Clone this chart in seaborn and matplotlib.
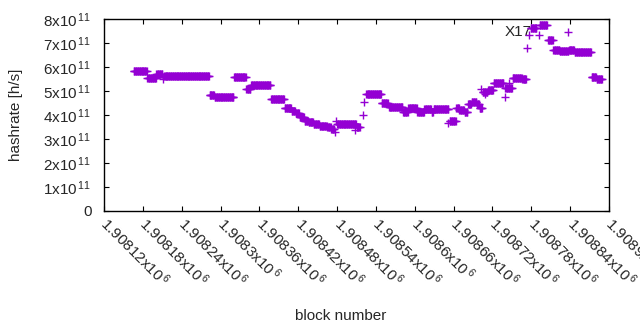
"""
Hashrate per block number, gnuplot-style scatter of '+' markers.
"""
import numpy as np
import pandas as pd
import matplotlib
matplotlib.use("Agg")
import matplotlib.pyplot as plt
import seaborn as sns

# ================================================================================
# Data
# ================================================================================
# Runs of blocks that share the same hashrate: first block, last block, rate [h/s]
seg_start = [1908166, 1908187, 1908201, 1908213, 1908283, 1908291, 1908311, 1908321,
             1908340, 1908347, 1908378, 1908399, 1908410, 1908416, 1908422, 1908430,
             1908436, 1908444, 1908453, 1908465, 1908471, 1908480, 1908510, 1908525,
             1908549, 1908560, 1908582, 1908590, 1908604, 1908615, 1908626, 1908629,
             1908654, 1908664, 1908669, 1908677, 1908682, 1908688, 1908696, 1908700,
             1908705, 1908713, 1908722, 1908740, 1908751, 1908766, 1908779, 1908793,
             1908806, 1908814, 1908824, 1908838, 1908847, 1908873, 1908881]
seg_end   = [1908186, 1908200, 1908210, 1908282, 1908290, 1908310, 1908320, 1908339,
             1908346, 1908377, 1908398, 1908409, 1908415, 1908421, 1908429, 1908435,
             1908443, 1908452, 1908464, 1908470, 1908475, 1908509, 1908515, 1908548,
             1908558, 1908581, 1908589, 1908603, 1908614, 1908625, 1908628, 1908652,
             1908663, 1908668, 1908676, 1908681, 1908687, 1908695, 1908699, 1908704,
             1908712, 1908721, 1908737, 1908750, 1908765, 1908772, 1908788, 1908804,
             1908813, 1908823, 1908837, 1908846, 1908872, 1908880, 1908889]
seg_rate  = [5.85, 5.56, 5.71, 5.61, 4.85, 4.74, 4.77, 5.57,
             5.10, 5.24, 4.65, 4.31, 4.17, 4.09, 3.90, 3.76,
             3.69, 3.62, 3.55, 3.48, 3.42, 3.62, 3.48, 4.87,
             4.49, 4.32, 4.14, 4.28, 4.14, 4.24, 4.12, 4.24,
             3.74, 4.30, 4.20, 4.12, 4.45, 4.53, 4.46, 4.28,
             4.97, 5.06, 5.32, 5.12, 5.56, 5.49, 7.62, 7.77,
             7.14, 6.69, 6.65, 6.69, 6.62, 5.58, 5.50]

# Single stray points
extra_block = [1908211, 1908477, 1908478, 1908508, 1908520, 1908522, 1908651,
               1908703, 1908708, 1908739, 1908746, 1908774, 1908777, 1908792, 1908836]
extra_rate  = [5.49, 3.30, 3.75, 3.37, 4.00, 4.55, 3.67,
               5.10, 4.86, 4.76, 5.32, 6.78, 7.33, 7.33, 7.45]

RATE_SCALE = 1e11
x_ticks = np.arange(1908120, 1908901, 60)
y_ticks = np.arange(0, 9) * RATE_SCALE

# Build the per-block table
blocks, rates = [], []
for a, b, r in zip(seg_start, seg_end, seg_rate):
    for blk in range(a, b + 1):
        blocks.append(blk)
        rates.append(r * RATE_SCALE)
blocks += extra_block
rates  += [r * RATE_SCALE for r in extra_rate]
df = pd.DataFrame({"block": blocks, "hashrate": rates})

# ================================================================================
# Styling
# ================================================================================
sns.set_style("ticks")
plt.rcParams["font.family"] = ["Liberation Sans", "DejaVu Sans"]
plt.rcParams["mathtext.default"] = "regular"
FONT = 11
COLOR = "#9400D3"

# ================================================================================
# Plot
# ================================================================================
fig = plt.figure(figsize=(6.4, 3.3), dpi=100)
ax = fig.add_axes([104 / 640, 1 - 211 / 330, (609 - 104) / 640, (211 - 19) / 330])

sns.scatterplot(data=df, x="block", y="hashrate", ax=ax, marker="+", s=40,
                color=COLOR, linewidth=1.0, zorder=3, legend=False)

ax.text(1908739, 7.46e11, "X17", fontsize=FONT, ha="left", va="center", zorder=2)

ax.set_xlim(x_ticks[0], x_ticks[-1])
ax.set_ylim(0, 8e11)
ax.set_xticks(x_ticks)
ax.set_yticks(y_ticks)
ax.set_xticklabels([f"{v / 1e6:g}x10$^{{\\,6}}$" for v in x_ticks])
ax.set_yticklabels(["0"] + [f"{int(v / RATE_SCALE)}x10$^{{\\,11}}$" for v in y_ticks[1:]])

ax.tick_params(axis="both", direction="in", top=True, right=True, length=3.5,
               width=0.8, labelsize=FONT, color="black")
ax.tick_params(axis="y", pad=9)
ax.tick_params(axis="x", pad=7)
plt.setp(ax.get_xticklabels(), rotation=-45, ha="left", va="center",
         rotation_mode="anchor")
plt.setp(ax.get_yticklabels(), va="center_baseline")
for sp in ax.spines.values():
    sp.set_linewidth(1.0)
    sp.set_color("black")

ax.set_xlabel("")
ax.set_ylabel("")
fig.text(341 / 640, 1 - 316 / 330, "block number", fontsize=FONT, ha="center", va="center")
fig.text(16 / 640, 1 - 115 / 330, "hashrate [h/s]", fontsize=FONT, ha="center",
         va="center", rotation=90)

fig.savefig("out.png", dpi=100)
